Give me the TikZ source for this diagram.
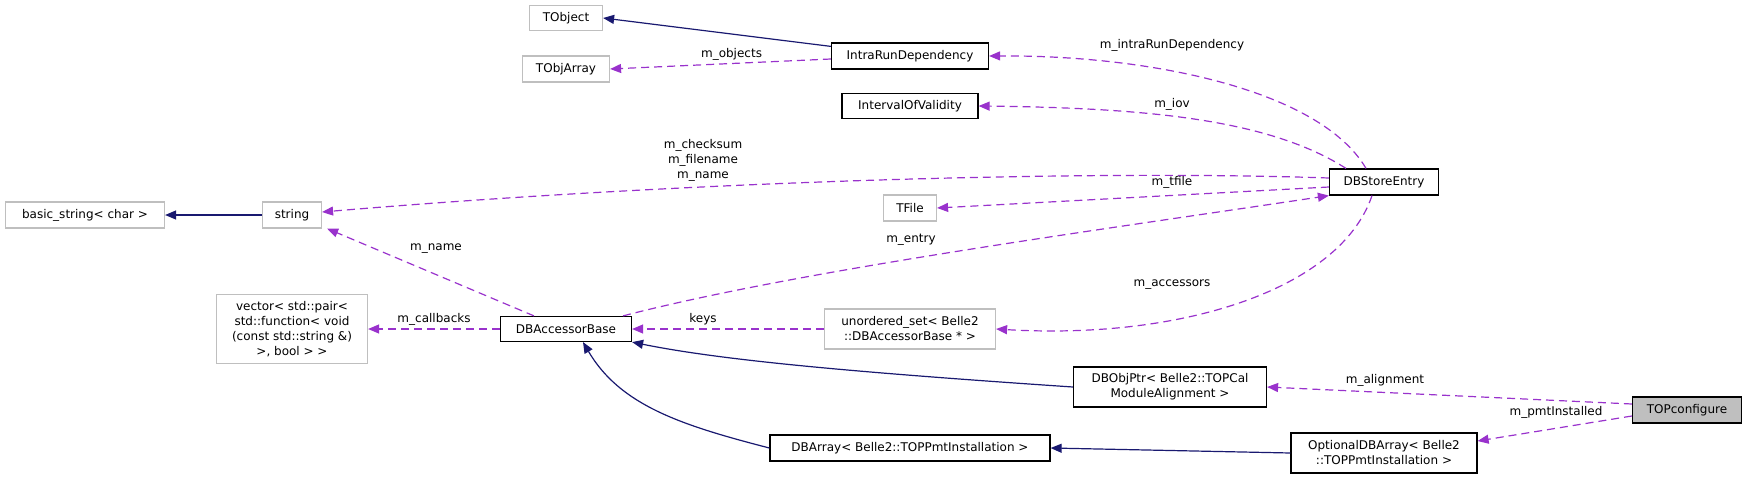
\documentclass[tikz,border=0pt]{standalone}
\usepackage{fontspec}
\setmainfont{DejaVu Sans}
\usetikzlibrary{arrows.meta}
\definecolor{inh}{RGB}{25,25,112}
\definecolor{usage}{RGB}{153,50,204}
\definecolor{ext}{RGB}{191,191,191}
\tikzset{
    cls/.style={draw=black,line width=1.2pt,inner sep=2pt,align=center,font=\fontsize{12}{15}\selectfont},
    extcls/.style={cls,draw=ext},
    inhedge/.style={inh,line width=1.2pt,-{Triangle[width=9pt,length=11pt]}},
    useedge/.style={usage,line width=1.2pt,dashed,dash pattern=on 8pt off 5pt,-{Triangle[width=9pt,length=11pt]}},
    lbl/.style={text=black,font=\fontsize{12}{15}\selectfont,align=center,inner sep=0pt}
}
\begin{document}
\begin{tikzpicture}[x=1pt,y=-1pt]
    \useasboundingbox (0,0) rectangle (1747,479);
    % classes
    \node[extcls,minimum width=73pt,minimum height=25pt] (TObject) at (566,18) {TObject};
    \node[extcls,minimum width=87pt,minimum height=26pt] (TObjArray) at (566,69) {TObjArray};
    \node[cls,minimum width=157pt,minimum height=26pt] (IntraRun) at (910,56) {IntraRunDependency};
    \node[cls,minimum width=136pt,minimum height=25pt] (IoV) at (910,106) {IntervalOfValidity};
    \node[cls,minimum width=109pt,minimum height=26pt] (DBStoreEntry) at (1384,182) {DBStoreEntry};
    \node[extcls,minimum width=53pt,minimum height=26pt] (TFile) at (910,208) {TFile};
    \node[extcls,minimum width=159pt,minimum height=26pt] (basicstr) at (85,215) {basic\_string\textless{} char \textgreater};
    \node[extcls,minimum width=59pt,minimum height=26pt] (string) at (292,215) {string};
    \node[extcls,minimum width=151pt,minimum height=69pt] (vector) at (292,329)
        {vector\textless{} std::pair\textless\\std::function\textless{} void\\(const std::string \&)\\\textgreater, bool \textgreater{} \textgreater};
    \node[cls,minimum width=131pt,minimum height=25pt] (DBAccessorBase) at (566,329) {DBAccessorBase};
    \node[extcls,minimum width=171pt,minimum height=40pt] (uset) at (910,329)
        {unordered\_set\textless{} Belle2\\::DBAccessorBase * \textgreater};
    \node[cls,minimum width=193pt,minimum height=40pt] (DBObjPtr) at (1170,387)
        {DBObjPtr\textless{} Belle2::TOPCal\\ModuleAlignment \textgreater};
    \node[cls,minimum width=280pt,minimum height=26pt] (DBArray) at (910,448) {DBArray\textless{} Belle2::TOPPmtInstallation \textgreater};
    \node[cls,minimum width=186pt,minimum height=40pt] (OptDBArray) at (1384,453)
        {OptionalDBArray\textless{} Belle2\\::TOPPmtInstallation \textgreater};
    \node[cls,fill=ext,minimum width=109pt,minimum height=26pt] (TOPconfigure) at (1687,410) {TOPconfigure};

    % inheritance
    \draw[inhedge] (IntraRun.north west) ++(0,4) -- (TObject.east);
    \draw[inhedge] (string.west) -- (basicstr.east);
    \draw[inhedge] (DBObjPtr.west) .. controls (850,372) and (720,360) .. (DBAccessorBase.south east);
    \draw[inhedge] (DBArray.west) .. controls (680,425) and (620,405) .. ([xshift=17pt]DBAccessorBase.south);
    \draw[inhedge] (OptDBArray.west) -- (DBArray.east);

    % usage
    \draw[useedge] ([yshift=-3pt]IntraRun.west) -- (TObjArray.east)
        node[lbl,pos=0.45,above=3pt] {m\_objects};
    \draw[useedge] ([xshift=-18pt]DBStoreEntry.north) .. controls (1320,90) and (1150,55) .. (IntraRun.east);
    \node[lbl] (lintra) at (1172,45) {m\_intraRunDependency};
    \draw[useedge] ([xshift=-38pt]DBStoreEntry.north) .. controls (1270,120) and (1150,108) .. (IoV.east);
    \node[lbl] (liov) at (1172,104) {m\_iov};
    \draw[useedge] ([yshift=4pt]DBStoreEntry.west) .. controls (1100,170) and (700,180) .. ([yshift=3pt]string.east);
    \node[lbl] (lchk) at (703,160) {m\_checksum\\m\_filename\\m\_name};
    \draw[useedge] ([yshift=-5pt]DBStoreEntry.west) -- (TFile.east);
    \node[lbl] (ltfile) at (1172,182) {m\_tfile};
    \draw[useedge] ([xshift=57pt]DBAccessorBase.north) .. controls (800,270) and (1100,230) .. (DBStoreEntry.south west);
    \node[lbl] (lentry) at (911,240) {m\_entry};
    \draw[useedge] ([xshift=-12pt]DBStoreEntry.south) .. controls (1340,290) and (1180,340) .. (uset.east);
    \node[lbl] (lacc) at (1172,285) {m\_accessors};
    \draw[useedge] ([xshift=-32pt]DBAccessorBase.north) -- ([xshift=5pt]string.south east);
    \node[lbl] (lname) at (436,249) {m\_name};
    \draw[useedge] (DBAccessorBase.west) -- (vector.east)
        node[lbl,midway,above=3pt] {m\_callbacks};
    \draw[useedge] (uset.west) -- (DBAccessorBase.east)
        node[lbl,pos=0.63,above=3pt] {keys};
    \draw[useedge] ([yshift=6pt]TOPconfigure.west) -- (DBObjPtr.east);
    \node[lbl] (lalign) at (1385,380) {m\_alignment};
    \draw[useedge] ([yshift=-6pt]TOPconfigure.west) -- ([yshift=12pt]OptDBArray.east);
    \node[lbl] (lpmt) at (1556,412) {m\_pmtInstalled};
\end{tikzpicture}
\end{document}
